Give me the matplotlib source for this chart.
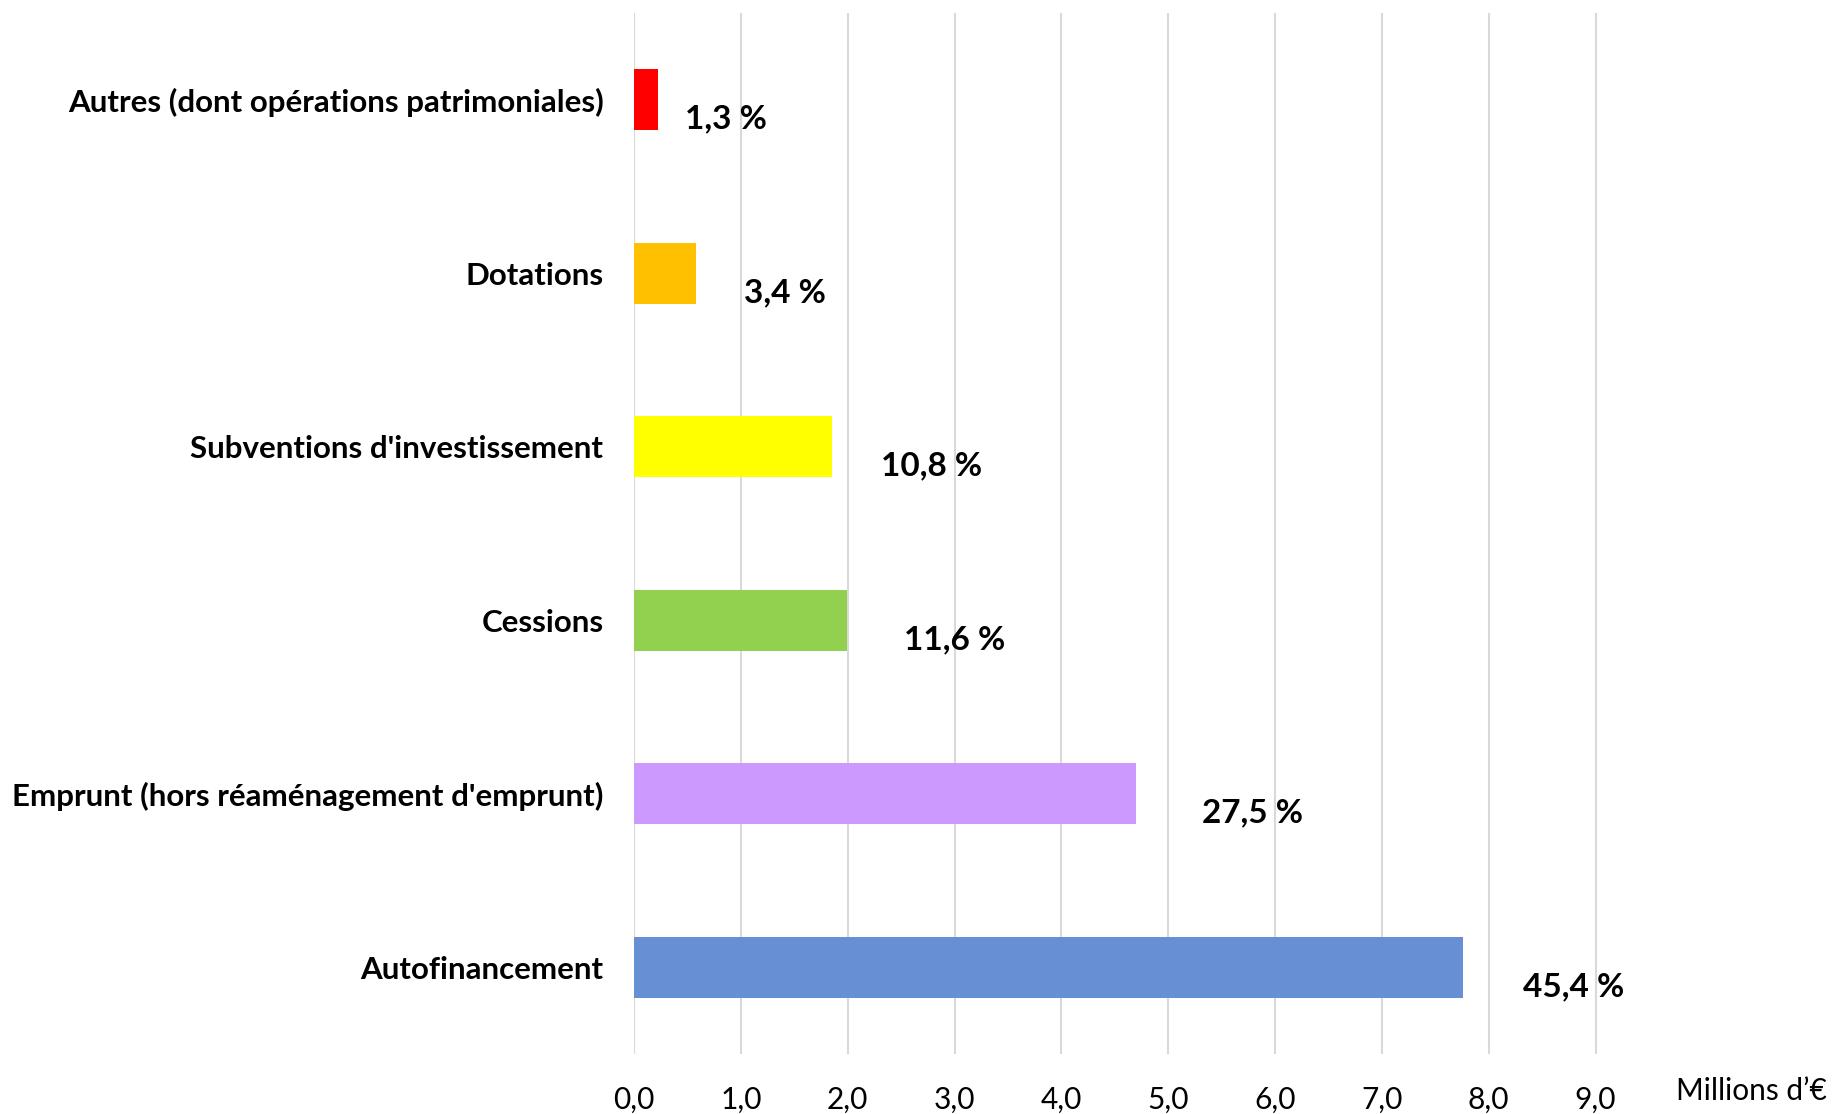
import matplotlib
matplotlib.use("Agg")
import matplotlib.pyplot as plt

# data, bottom to top
categories = [
    "Autofinancement",
    "Emprunt (hors réaménagement d'emprunt)",
    "Cessions",
    "Subventions d'investissement",
    "Dotations",
    "Autres (dont opérations patrimoniales)",
]
values = [7.76, 4.70, 1.99, 1.85, 0.58, 0.22]
shares = ["45,4 %", "27,5 %", "11,6 %", "10,8 %", "3,4 %", "1,3 %"]
xticks = [0, 1, 2, 3, 4, 5, 6, 7, 8, 9]

colors = ["#6690D3", "#CC99FF", "#92D050", "#FFFF00", "#FFC000", "#FF0000"]
label_dx = [0.56, 0.62, 0.54, 0.46, 0.45, 0.26]

plt.rcParams["font.family"] = ["Lato", "DejaVu Sans"]

fig = plt.figure(figsize=(18.38, 11.14), dpi=100)
ax = fig.add_axes([634 / 1838, 1 - 1054 / 1114, (1649 - 634) / 1838, (1054 - 13) / 1114])

ypos = list(range(len(categories)))
ax.barh(ypos, values, height=0.35, color=colors, zorder=2)

for y, v, s, dx in zip(ypos, values, shares, label_dx):
    ax.text(v + dx, y - 0.11, s, ha="left", va="center",
            fontsize=24, fontweight="bold", color="black")

ax.set_xlim(0, 9.5)
ax.set_ylim(-0.5, len(categories) - 0.5)
ax.set_xticks(xticks)
ax.set_xticklabels([f"{t:.1f}".replace(".", ",") for t in xticks], fontsize=21.5)
ax.set_yticks(ypos)
ax.set_yticklabels(categories, fontsize=22.5, fontweight="bold")
ax.tick_params(axis="x", length=0, pad=23)
ax.tick_params(axis="y", length=0, pad=22)

ax.grid(axis="x", color="#D9D9D9", linewidth=1.5, zorder=0)
for sp in ax.spines.values():
    sp.set_visible(False)

fig.text(1676 / 1838, 1 - 1091 / 1114, "Millions d’€", fontsize=21.5,
         ha="left", va="center")

fig.savefig("out.png", dpi=100)
